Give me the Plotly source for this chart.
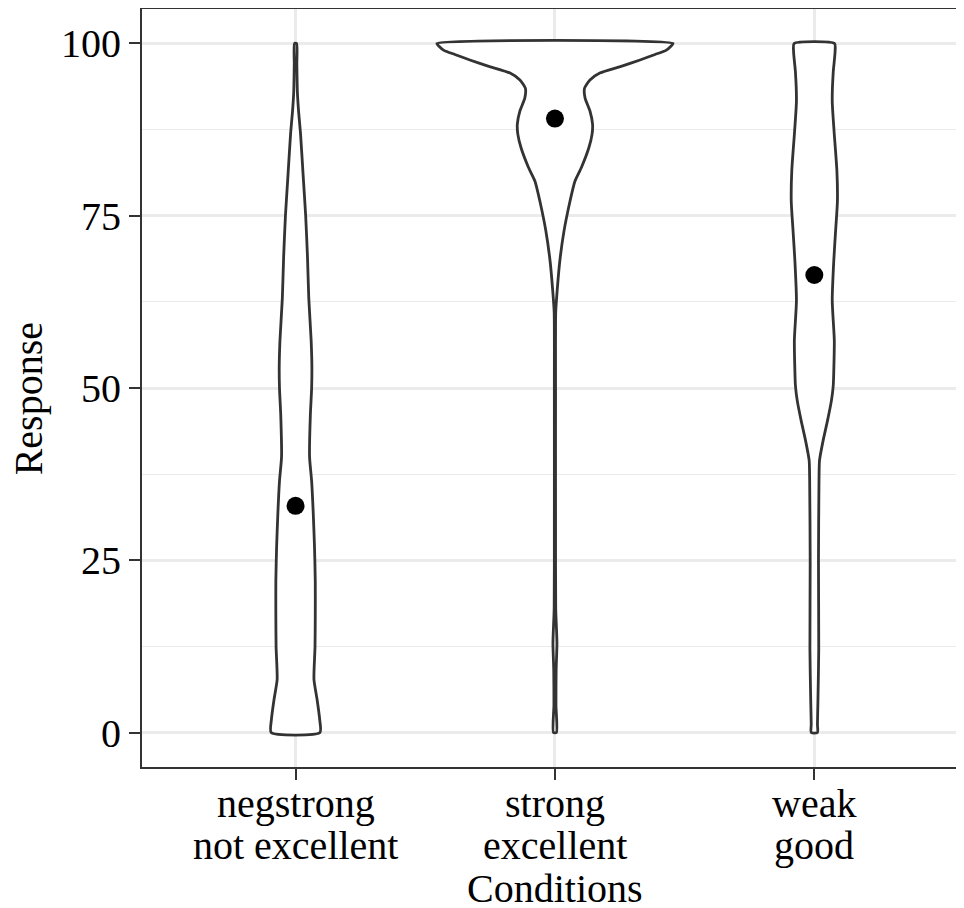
import plotly.graph_objects as go

# ---------------- data ----------------
cat_pos = [1, 2, 3]
tick_line1 = ["negstrong", "strong", "weak"]
tick_line2 = ["not excellent", "excellent", "good"]

# violin outlines: response level and half-width (fraction of category spacing)
neg_y = [100, 97, 93, 90, 87, 81, 75, 69, 63, 57, 53, 50, 46, 40, 36.5, 32, 27, 22, 17, 12.4, 7.7, 4.8, 1.9, 0]
neg_hw = [0.004, 0.005, 0.007, 0.012, 0.019, 0.029, 0.039, 0.046, 0.051, 0.060, 0.063, 0.062, 0.057, 0.054,
          0.062, 0.068, 0.073, 0.076, 0.076, 0.075, 0.071, 0.083, 0.093, 0.094]

strong_y = [100, 99.6, 99.0, 98.4, 97.6, 96.7, 95.7, 94.7, 93.5, 92.1, 90.2, 88.3, 86.8, 84.9, 82.0, 80.0,
            77.1, 72.8, 68.5, 64.1, 61, 50, 30, 18, 13, 9, 4, 0]
strong_hw = [0.455, 0.447, 0.428, 0.386, 0.328, 0.258, 0.173, 0.135, 0.114, 0.116, 0.135, 0.145, 0.143, 0.131,
             0.102, 0.077, 0.058, 0.035, 0.019, 0.0085, 0.003, 0.0023, 0.0023, 0.003, 0.0077, 0.0046, 0.0039, 0.0058]

weak_y = [100, 98.8, 95.9, 91.6, 87.3, 81.5, 77.1, 72.8, 68.5, 62.7, 56.9, 52.5, 50.4, 48.2, 45.3, 42.4,
          39.5, 36.6, 25, 12, 4.8, 1.2, 0]
weak_hw = [0.078, 0.080, 0.073, 0.069, 0.076, 0.087, 0.089, 0.082, 0.075, 0.069, 0.077, 0.075, 0.073, 0.066,
           0.051, 0.034, 0.020, 0.018, 0.016, 0.017, 0.014, 0.012, 0.012]

means = [32.9, 89.1, 66.4]

y_ticks = [0, 25, 50, 75, 100]

# ---------------- figure ----------------
FONT = "Liberation Serif, Times New Roman, serif"
OUTLINE = "#333333"

fig = go.Figure()

profiles = [(neg_y, neg_hw), (strong_y, strong_hw), (weak_y, weak_hw)]
for c, (ys, hws) in zip(cat_pos, profiles):
    right_x = [c + h for h in hws]
    left_x = [c - h for h in reversed(hws)]
    xs = right_x + left_x + [right_x[0]]
    yy = list(ys) + list(reversed(ys)) + [ys[0]]
    fig.add_trace(go.Scatter(
        x=xs, y=yy, mode="lines", fill="toself", fillcolor="white",
        line=dict(color=OUTLINE, width=2.8, shape="spline", smoothing=0.6),
        hoverinfo="skip", showlegend=False))

fig.add_trace(go.Scatter(
    x=cat_pos, y=means, mode="markers",
    marker=dict(color="black", size=18),
    showlegend=False))

annotations = []
for c, l1, l2 in zip(cat_pos, tick_line1, tick_line2):
    annotations.append(dict(x=c, xref="x", y=0, yref="paper", text=l1, showarrow=False,
                            yanchor="middle", yshift=-36, font=dict(family=FONT, size=40, color="black")))
    annotations.append(dict(x=c, xref="x", y=0, yref="paper", text=l2, showarrow=False,
                            yanchor="middle", yshift=-78, font=dict(family=FONT, size=40, color="black")))

annotations.append(dict(x=2, xref="x", y=0, yref="paper", text="Conditions", showarrow=False,
                        yanchor="middle", yshift=-121, font=dict(family=FONT, size=40, color="black")))
annotations.append(dict(x=0, xref="paper", xshift=-114, y=0.485, yref="paper", text="Response",
                        showarrow=False, textangle=-90, xanchor="center", yanchor="middle",
                        font=dict(family=FONT, size=40, color="black")))

# the page body has an 8px margin, so the figure is sized/positioned to compensate
fig.update_layout(
    width=956, height=900,
    margin=dict(l=134, r=0, t=1, b=141),
    paper_bgcolor="white", plot_bgcolor="white",
    showlegend=False,
    annotations=annotations,
    xaxis=dict(range=[0.408, 3.577], tickvals=cat_pos, showticklabels=False,
               ticks="outside", ticklen=11, tickwidth=2, tickcolor=OUTLINE,
               showgrid=True, gridcolor="#EBEBEB", gridwidth=2.5, zeroline=False,
               showline=True, mirror=True, linecolor=OUTLINE, linewidth=2),
    yaxis=dict(range=[-5, 105], tickvals=y_ticks, ticktext=[str(v) for v in y_ticks],
               ticks="outside", ticklen=11, tickwidth=2, tickcolor=OUTLINE,
               tickfont=dict(family=FONT, size=40, color="black"),
               showgrid=True, gridcolor="#EBEBEB", gridwidth=2.5, zeroline=False,
               showline=True, linecolor=OUTLINE, linewidth=2,
               minor=dict(tickvals=[12.5, 37.5, 62.5, 87.5], showgrid=True,
                          gridcolor="#EBEBEB", gridwidth=1.3, ticks="")),
)

fig.write_html("out.html")
